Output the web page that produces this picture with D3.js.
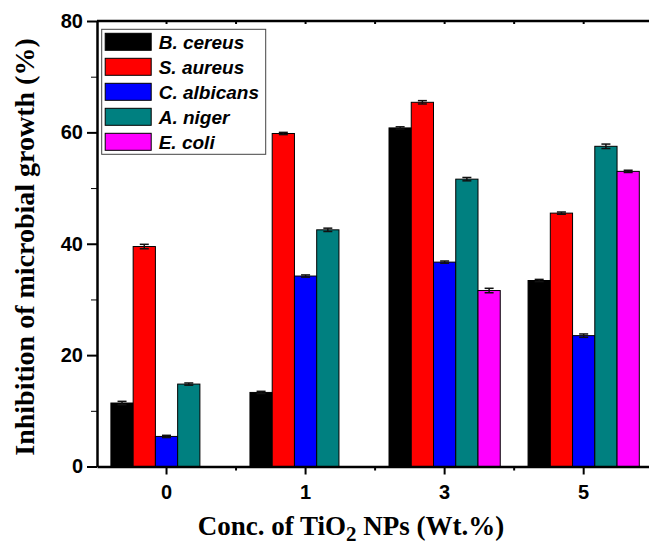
<!DOCTYPE html>
<html>
<head>
<meta charset="utf-8">
<script src="https://cdn.jsdelivr.net/npm/d3@7"></script>
<style>
  html, body { margin: 0; padding: 0; background: #fff; }
  svg { display: block; }
</style>
</head>
<body>
<div id="chart"></div>
<script>
// categories (x axis) and series
const categories = ["0", "1", "3", "5"];
const species = ["B. cereus", "S. aureus", "C. albicans", "A. niger", "E. coli"];
const speciesColors = ["#000000", "#ff0000", "#0000ff", "#008080", "#ff00ff"];

// inhibition (%) per concentration, one array per organism (null = not measured)
const bCereus    = [11.4, 13.3, 60.8, 33.4];
const sAureus    = [39.5, 59.8, 65.4, 45.5];
const cAlbicans  = [5.4, 34.2, 36.7, 23.5];
const aNiger     = [14.8, 42.5, 51.6, 57.5];
const eColi      = [null, null, 31.6, 53.0];

// error (+/-)
const bCereusErr   = [0.3, 0.2, 0.2, 0.2];
const sAureusErr   = [0.4, 0.2, 0.3, 0.2];
const cAlbicansErr = [0.2, 0.2, 0.2, 0.3];
const aNigerErr    = [0.2, 0.3, 0.3, 0.4];
const eColiErr     = [null, null, 0.4, 0.2];

const yMajorTicks = [0, 20, 40, 60, 80];
const yMinorTicks = [10, 30, 50, 70];

const seriesValues = [bCereus, sAureus, cAlbicans, aNiger, eColi];
const seriesErrors = [bCereusErr, sAureusErr, cAlbicansErr, aNigerErr, eColiErr];

const outerW = 649, outerH = 551;
const margin = { top: 21, left: 97, bottom: 84.5 };
const width = 556.2;                       // frame runs a bit past the right edge
const height = outerH - margin.top - margin.bottom;

const svgRoot = d3.select("#chart")
    .append("svg")
    .attr("width", outerW)
    .attr("height", outerH);

const svg = svgRoot.append("g")
    .attr("transform", "translate(" + margin.left + "," + margin.top + ")");

// scales
const x0 = d3.scaleBand()
    .domain(categories)
    .range([0, width])
    .paddingInner(0)
    .paddingOuter(0);

const x1 = d3.scaleBand()
    .domain(species)
    .range([x0.bandwidth() * 0.1, x0.bandwidth() * 0.9]);

const y = d3.scaleLinear()
    .domain([0, 80])
    .range([height, 0]);

// bars
const rows = [];
seriesValues.forEach((vals, i) => {
    vals.forEach((v, j) => {
        if (v != null) {
            rows.push({ sp: species[i], cat: categories[j], v: v, e: seriesErrors[i][j], color: speciesColors[i] });
        }
    });
});

svg.append("g")
    .selectAll("rect")
    .data(rows)
    .enter()
    .append("rect")
    .attr("x", d => x0(d.cat) + x1(d.sp))
    .attr("y", d => y(d.v))
    .attr("width", x1.bandwidth())
    .attr("height", d => height - y(d.v))
    .attr("fill", d => d.color)
    .attr("stroke", "#000")
    .attr("stroke-width", 1);

// error bars
const errG = svg.append("g")
    .attr("stroke", "#111")
    .attr("stroke-width", 1.5);
rows.forEach(d => {
    const cx = x0(d.cat) + x1(d.sp) + x1.bandwidth() / 2;
    errG.append("line")
        .attr("x1", cx).attr("x2", cx)
        .attr("y1", y(d.v - d.e)).attr("y2", y(d.v + d.e));
    [d.v - d.e, d.v + d.e].forEach(t => {
        errG.append("line")
            .attr("x1", cx - 4.5).attr("x2", cx + 4.5)
            .attr("y1", y(t)).attr("y2", y(t));
    });
});

// Y axis, major + minor ticks
const yAxis = svg.append("g")
    .call(d3.axisLeft(y).tickValues(yMajorTicks).tickSize(10).tickSizeOuter(0).tickPadding(4));
svg.append("g")
    .call(d3.axisLeft(y).tickValues(yMinorTicks).tickSize(6).tickSizeOuter(0).tickFormat(""))
    .select(".domain").remove();

// X axis
const xAxis = svg.append("g")
    .attr("transform", "translate(0," + height + ")")
    .call(d3.axisBottom(x0).tickSize(8).tickSizeOuter(0).tickPadding(10));

// minor ticks between groups
const boundaries = categories.slice(1).map(c => x0(c));
svg.append("g")
    .selectAll("line")
    .data(boundaries)
    .enter()
    .append("line")
    .attr("x1", d => d).attr("x2", d => d)
    .attr("y1", height).attr("y2", height + 4)
    .attr("stroke", "#000")
    .attr("stroke-width", 2);

// top frame with small inward ticks
svg.append("line")
    .attr("x1", 0).attr("x2", width)
    .attr("y1", 0).attr("y2", 0)
    .attr("stroke", "#000")
    .attr("stroke-width", 2.5);
const topTicks = categories.map(c => x0(c) + x0.bandwidth() / 2).concat(boundaries);
svg.append("g")
    .selectAll("line")
    .data(topTicks)
    .enter()
    .append("line")
    .attr("x1", d => d).attr("x2", d => d)
    .attr("y1", -1).attr("y2", 3)
    .attr("stroke", "#000")
    .attr("stroke-width", 2);

[yAxis, xAxis].forEach(g => {
    g.select(".domain").attr("stroke-width", 2.5);
    g.selectAll(".tick line").attr("stroke-width", 2);
    g.selectAll(".tick text")
        .style("font-family", "Arial, 'Liberation Sans', sans-serif")
        .style("font-size", "20px")
        .style("font-weight", "bold")
        .attr("fill", "#000");
});

// axis titles
svg.append("text")
    .attr("text-anchor", "middle")
    .attr("transform", "rotate(-90)")
    .attr("x", -(247 - margin.top))
    .attr("y", -margin.left + 34)
    .style("font-family", "'Times New Roman', 'Liberation Serif', serif")
    .style("font-size", "28px")
    .style("font-weight", "bold")
    .text("Inhibition of microbial growth (%)");

const xTitle = svg.append("text")
    .attr("text-anchor", "middle")
    .attr("x", 351 - margin.left)
    .attr("y", height + 68.5)
    .style("font-family", "'Times New Roman', 'Liberation Serif', serif")
    .style("font-size", "27px")
    .style("font-weight", "bold");
xTitle.append("tspan").text("Conc. of TiO");
xTitle.append("tspan").attr("dy", 6).style("font-size", "21px").text("2");
xTitle.append("tspan").attr("dy", -6).text(" NPs (Wt.%)");

// legend
const legend = svg.append("g")
    .attr("transform", "translate(4.7,8.3)");
legend.append("rect")
    .attr("width", 164)
    .attr("height", 125)
    .attr("fill", "#fff")
    .attr("stroke", "#444")
    .attr("stroke-width", 1);
species.forEach((sp, i) => {
    const row = legend.append("g").attr("transform", "translate(0," + (i * 25) + ")");
    row.append("rect")
        .attr("x", 3.5).attr("y", 4)
        .attr("width", 46).attr("height", 17)
        .attr("fill", speciesColors[i])
        .attr("stroke", "#000")
        .attr("stroke-width", 1);
    row.append("text")
        .attr("x", 57)
        .attr("y", 19.5)
        .style("font-family", "Arial, 'Liberation Sans', sans-serif")
        .style("font-size", "19px")
        .style("font-weight", "bold")
        .style("font-style", "italic")
        .text(sp);
});
</script>
</body>
</html>
